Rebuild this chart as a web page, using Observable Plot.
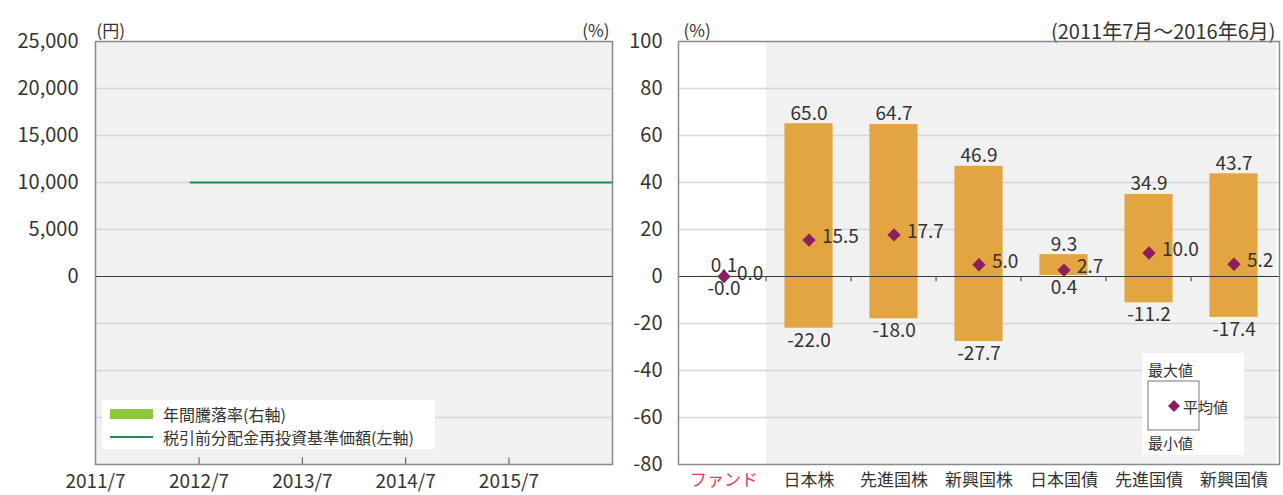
<!DOCTYPE html>
<html>
<head>
<meta charset="utf-8">
<script src="https://cdn.jsdelivr.net/npm/d3@7"></script>
<script src="https://cdn.jsdelivr.net/npm/@observablehq/plot@0.6"></script>
<style>
  body { margin: 0; background: #fff; font-family: "Noto Sans CJK JP", "Noto Sans", sans-serif; }
  #wrap { position: relative; width: 1283px; height: 495px; overflow: hidden; }
  #wrap > div, #wrap > svg { position: absolute; }
  svg text { font-family: "Noto Sans CJK JP", "Noto Sans", sans-serif; }
</style>
</head>
<body>
<div id="wrap">
  <div id="left" style="left:0;top:0"></div>
  <div id="right" style="left:590px;top:0"></div>
</div>
<script>
// ---------- Left panel data ----------
const navDates = ["2012-06-01", "2016-06-30"];
const navValues = [10000, 10000];
const leftTickDates = ["2011-07-01", "2012-07-01", "2013-07-01", "2014-07-01", "2015-07-01"];
const leftYTicks = [0, 5000, 10000, 15000, 20000, 25000];
const leftGrid = [-15000, -10000, -5000, 5000, 10000, 15000, 20000];
const leftDomainX = ["2011-07-01", "2016-07-01"];
const leftDomainY = [-20000, 25000];

// ---------- Right panel data ----------
const categories = ["ファンド", "日本株", "先進国株", "新興国株", "日本国債", "先進国債", "新興国債"];
const maxValues = [0.1, 65.0, 64.7, 46.9, 9.3, 34.9, 43.7];
const minValues = [-0.01, -22.0, -18.0, -27.7, 0.4, -11.2, -17.4];
const meanValues = [0.0, 15.5, 17.7, 5.0, 2.7, 10.0, 5.2];
const rightYTicks = [-80, -60, -40, -20, 0, 20, 40, 60, 80, 100];
const rightGrid = [-60, -40, -20, 20, 40, 60, 80];

const FONT = "Noto Sans CJK JP";
const TXT = "#333";
const GRID = "#d7d7d7";
const BG = "#f1f1f1";
const FRAME = "#8a8a8a";
const BAR = "#e3a442";
const DIAMOND = "#8c1f60";

const parse = d3.utcParse("%Y-%m-%d");

// ---------- Left chart ----------
const nav = navDates.map((d, i) => ({date: parse(d), value: navValues[i]}));
const left = Plot.plot({
  width: 640, height: 495,
  marginLeft: 95, marginRight: 28, marginTop: 41, marginBottom: 31,
  style: {fontFamily: FONT, color: TXT, background: "transparent", overflow: "visible"},
  x: {type: "utc", domain: leftDomainX.map(parse), axis: null},
  y: {domain: leftDomainY, axis: null},
  marks: [
    Plot.frame({fill: BG}),
    Plot.ruleY(leftGrid, {stroke: GRID, strokeWidth: 1.5}),
    Plot.ruleY([0], {stroke: "#3a3a3a", strokeWidth: 1.2}),
    Plot.ruleX(leftTickDates.slice(1).map(parse), {y1: leftDomainY[0], y2: leftDomainY[0] + 700, stroke: "#666", strokeWidth: 1.2}),
    Plot.line(nav, {x: "date", y: "value", stroke: "#1f8f4e", strokeWidth: 2.2}),
    Plot.axisY({ticks: leftYTicks, tickFormat: d3.format(","), tickSize: 0, tickPadding: 17, fontSize: 20, fill: TXT, label: null}),
    Plot.axisX({ticks: leftTickDates.map(parse), tickFormat: d3.utcFormat("%Y/%-m"), tickSize: 0, tickPadding: 10, fontSize: 19, fill: TXT, label: null}),
    Plot.text(["(円)"], {frameAnchor: "top-left", dy: -17, dx: 1, textAnchor: "start", fontSize: 17, fill: TXT}),
    Plot.text(["(%)"], {frameAnchor: "top-right", dy: -17, dx: -3, textAnchor: "end", fontSize: 17, fill: TXT}),
    Plot.frame({stroke: FRAME, strokeWidth: 1.5})
  ]
});
document.getElementById("left").appendChild(left);

// ---------- Right chart ----------
const rows = categories.map((c, i) => ({cat: c, max: maxValues[i], min: minValues[i], mean: meanValues[i]}));
const rW = 693, rML = 88, rMR = 4;
const step = (rW - rML - rMR) / categories.length;
const barInset = (step - 49) / 2;
const right = Plot.plot({
  width: rW, height: 495,
  marginLeft: rML, marginRight: rMR, marginTop: 41, marginBottom: 31,
  style: {fontFamily: FONT, color: TXT, background: "transparent", overflow: "visible"},
  x: {domain: categories, padding: 0, axis: null},
  y: {domain: [-80, 100], axis: null},
  marks: [
    Plot.frame({fill: "#fff"}),
    Plot.barY(categories.slice(1), {x: d => d, y1: -80, y2: 100, fill: BG}),
    Plot.ruleY(rightGrid, {stroke: GRID, strokeWidth: 1.5}),
    Plot.barY(rows, {x: "cat", y1: "min", y2: "max", fill: BAR, insetLeft: barInset, insetRight: barInset}),
    Plot.ruleY([0], {stroke: "#3a3a3a", strokeWidth: 1.2}),
    Plot.ruleX(categories.slice(1), {x: d => d, dx: -step / 2, y1: 0, y2: -2.2, stroke: "#555", strokeWidth: 1.2}),
    Plot.dot(rows, {x: "cat", y: "mean", symbol: "diamond2", r: 6, fill: DIAMOND, stroke: "none"}),
    Plot.text(rows, {x: "cat", y: "max", text: d => d.max.toFixed(1), lineAnchor: "bottom", dy: -4, fontSize: 19, fill: TXT}),
    Plot.text(rows, {x: "cat", y: "min", text: d => d.min.toFixed(1), lineAnchor: "top", dy: 5, fontSize: 19, fill: TXT}),
    Plot.text(rows, {x: "cat", y: "mean", text: d => d.mean.toFixed(1), textAnchor: "start", dx: 13, dy: -3, fontSize: 19, fill: TXT}),
    Plot.axisY({ticks: rightYTicks, tickFormat: d => String(d), tickSize: 0, tickPadding: 16, fontSize: 20, fill: TXT, label: null}),
    Plot.text(categories, {x: d => d, frameAnchor: "bottom", dy: 21, fontSize: 17, fill: d => d === "ファンド" ? "#e4375a" : TXT}),
    Plot.text(["(%)"], {frameAnchor: "top-left", dy: -17, dx: 5, textAnchor: "start", fontSize: 17, fill: TXT}),
    Plot.text(["(2011年7月～2016年6月)"], {frameAnchor: "top-right", dy: -17, dx: -4, textAnchor: "end", fontSize: 20, fill: TXT}),
    Plot.frame({stroke: FRAME, strokeWidth: 1.5})
  ]
});
document.getElementById("right").appendChild(right);

// ---------- Legends (SVG overlays) ----------
const wrap = document.getElementById("wrap");
const NS = "http://www.w3.org/2000/svg";
function el(tag, attrs, parent, text) {
  const e = document.createElementNS(NS, tag);
  for (const k in attrs) e.setAttribute(k, attrs[k]);
  if (text != null) e.textContent = text;
  parent.appendChild(e);
  return e;
}
// left legend
const legendLeftItems = ["年間騰落率(右軸)", "税引前分配金再投資基準価額(左軸)"];
const lg = el("svg", {width: 333, height: 49, style: "left:102px;top:400px"}, wrap);
el("rect", {x: 0, y: 0, width: 333, height: 49, fill: "#fff"}, lg);
el("rect", {x: 8, y: 9, width: 43, height: 10, fill: "#8dc63f"}, lg);
el("line", {x1: 8, x2: 51, y1: 37, y2: 37, stroke: "#1f8f4e", "stroke-width": 2.2}, lg);
el("text", {x: 61, y: 14, "dominant-baseline": "central", "font-size": 16, fill: TXT}, lg, legendLeftItems[0]);
el("text", {x: 61, y: 37, "dominant-baseline": "central", "font-size": 16, fill: TXT}, lg, legendLeftItems[1]);
// right legend
const legendRightItems = ["最大値", "平均値", "最小値"];
const rg = el("svg", {width: 102, height: 102, style: "left:1142px;top:353px"}, wrap);
el("rect", {x: 0, y: 0, width: 102, height: 102, fill: "#fff"}, rg);
el("rect", {x: 6, y: 28, width: 51, height: 49, fill: "#fff", stroke: "#777", "stroke-width": 1}, rg);
el("path", {d: "M32,47 L38,53 L32,59 L26,53 Z", fill: DIAMOND}, rg);
el("text", {x: 6, y: 16, "dominant-baseline": "central", "font-size": 15, fill: TXT}, rg, legendRightItems[0]);
el("text", {x: 41, y: 53, "dominant-baseline": "central", "font-size": 15, fill: TXT}, rg, legendRightItems[1]);
el("text", {x: 6, y: 89, "dominant-baseline": "central", "font-size": 15, fill: TXT}, rg, legendRightItems[2]);
</script>
</body>
</html>
